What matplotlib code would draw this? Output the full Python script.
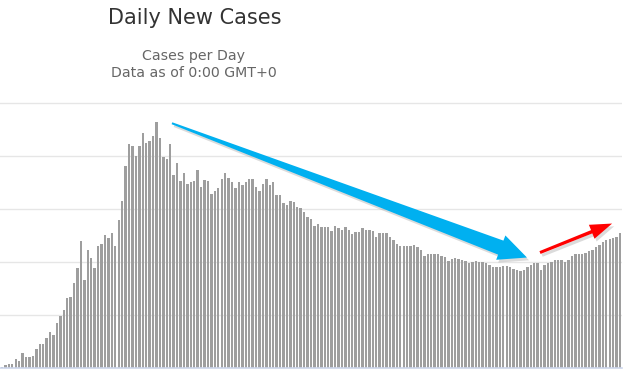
#!/usr/bin/env python3
"""Daily new cases bar chart with trend arrows."""

import numpy as np
import matplotlib
matplotlib.use('Agg')
import matplotlib.pyplot as plt
from matplotlib.patches import Polygon
from matplotlib.transforms import IdentityTransform
import matplotlib.patheffects as pe

# daily new cases, one bar per day
cases = [
    30, 60, 90, 90, 170, 140, 280, 220, 220, 240,
    360, 450, 450, 570, 680, 630, 850, 990, 1090, 1320,
    1340, 1600, 1880, 2400, 1660, 2230, 2070, 1880, 2300, 2350,
    2510, 2450, 2540, 2310, 2790, 3150, 3810, 4220, 4180, 4000,
    4180, 4440, 4240, 4280, 4370, 4630, 4330, 3980, 3950, 4220,
    3640, 3860, 3530, 3670, 3470, 3500, 3530, 3730, 3420, 3550,
    3530, 3290, 3330, 3390, 3560, 3670, 3580, 3510, 3390, 3510,
    3450, 3510, 3560, 3560, 3420, 3340, 3480, 3560, 3450, 3510,
    3260, 3260, 3110, 3070, 3160, 3140, 3040, 3010, 2940, 2840,
    2820, 2680, 2710, 2670, 2670, 2670, 2590, 2680, 2650, 2600,
    2670, 2600, 2520, 2570, 2560, 2640, 2600, 2600, 2590, 2480,
    2540, 2540, 2540, 2480, 2420, 2350, 2310, 2310, 2310, 2310,
    2330, 2290, 2230, 2120, 2160, 2160, 2160, 2160, 2120, 2090,
    2030, 2050, 2070, 2050, 2040, 2020, 1980, 2000, 2030, 2010,
    2000, 1990, 1950, 1910, 1900, 1900, 1930, 1930, 1900, 1870,
    1850, 1840, 1860, 1900, 1950, 1980, 1990, 1860, 1950, 1980,
    2010, 2040, 2040, 2040, 2010, 2040, 2120, 2160, 2160, 2150,
    2180, 2200, 2230, 2280, 2320, 2370, 2420, 2440, 2450, 2480,
    2540,
]
grid_levels = [1000, 2000, 3000, 4000, 5000]

# trend arrows: (day, cases) of tail and tip
blue_tail, blue_tip = (49.5, 4615), (152.9, 2086)
red_tail, red_tip = (156.7, 2180), (177.7, 2726)

W, H = 626, 376


def tapered_arrow(ax, tail, tip, w0, w1, head_w, head_len, color):
    """Arrow whose shaft widens from w0 to w1 px, built in pixel space."""
    p0 = ax.transData.transform(tail)
    p1 = ax.transData.transform(tip)
    d = p1 - p0
    L = np.hypot(*d)
    u = d / L
    n = np.array([-u[1], u[0]])
    base = p1 - u * head_len
    pts = [p0 + n * w0 / 2, base + n * w1 / 2, base + n * head_w / 2, p1,
           base - n * head_w / 2, base - n * w1 / 2, p0 - n * w0 / 2]
    poly = Polygon(pts, closed=True, facecolor=color, edgecolor='none',
                   transform=IdentityTransform(), zorder=5)
    poly.set_path_effects([pe.SimplePatchShadow(offset=(1.5, -2), shadow_rgbFace='#888888', alpha=0.3),
                           pe.Normal()])
    ax.figure.add_artist(poly)


def main():
    fig = plt.figure(figsize=(W / 100, H / 100), dpi=100)
    bottom_px, top_px = 7.7, 98.0
    ax = fig.add_axes([0, bottom_px / H, 622 / W, (H - bottom_px - top_px) / H])

    x = np.arange(len(cases))
    ax.bar(x, cases, width=0.7, color='#9e9e9e', zorder=2)

    step_px = 53.1
    ax.set_ylim(0, (H - bottom_px - top_px) / step_px * 1000)
    ax.set_xlim(-0.58, len(cases) - 1 + 0.58)
    ax.set_yticks(grid_levels)
    ax.set_xticks([])
    ax.tick_params(left=False, labelleft=False)
    ax.grid(axis='y', color='#e6e6e6', linewidth=1, zorder=0)
    for s in ['top', 'left', 'right']:
        ax.spines[s].set_visible(False)
    ax.spines['bottom'].set_color('#ccd6eb')
    ax.spines['bottom'].set_linewidth(1.2)

    fig.text(194.5 / W, 1 - 18 / H, 'Daily New Cases', ha='center', va='center',
             fontsize=15, color='#333333')
    fig.text(194 / W, 1 - 56 / H, 'Cases per Day', ha='center', va='center',
             fontsize=10.2, color='#666666')
    fig.text(194 / W, 1 - 73 / H, 'Data as of 0:00 GMT+0', ha='center', va='center',
             fontsize=10.2, color='#666666')

    tapered_arrow(ax, blue_tail, blue_tip, 2, 15, 26, 28, '#00b0f0')
    tapered_arrow(ax, red_tail, red_tip, 3, 3.5, 15, 22, '#ff0000')

    fig.savefig('out.png', dpi=100)


if __name__ == '__main__':
    main()
